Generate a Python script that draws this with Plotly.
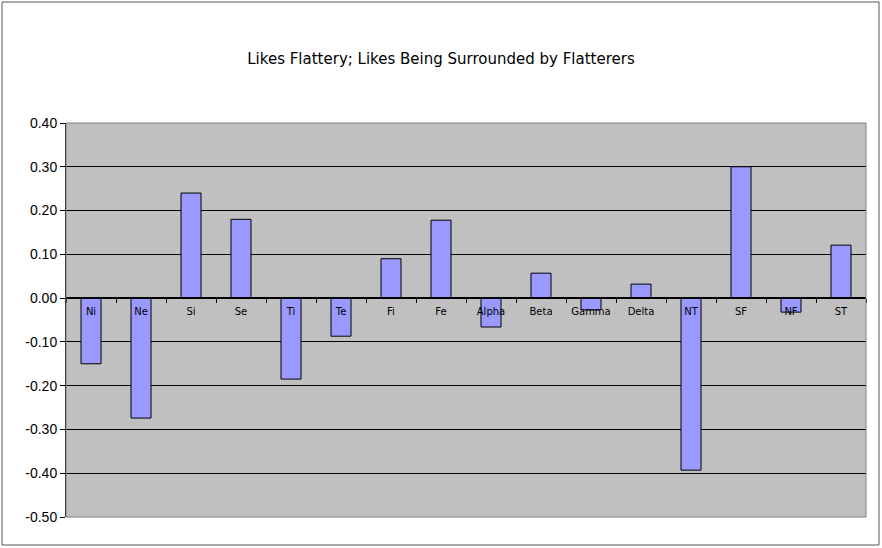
import plotly.graph_objects as go

categories = ["Ni", "Ne", "Si", "Se", "Ti", "Te", "Fi", "Fe", "Alpha", "Beta",
              "Gamma", "Delta", "NT", "SF", "NF", "ST"]
values = [-0.15, -0.274, 0.24, 0.18, -0.185, -0.087, 0.09, 0.178, -0.066, 0.057,
          -0.027, 0.032, -0.393, 0.30, -0.032, 0.121]
y_tickvals = [0.4, 0.3, 0.2, 0.1, 0.0, -0.1, -0.2, -0.3, -0.4, -0.5]
y_ticktext = ["0.40", "0.30", "0.20", "0.10", "0.00", "-0.10", "-0.20", "-0.30", "-0.40", "-0.50"]
title_text = "Likes Flattery; Likes Being Surrounded by Flatterers"

W, H = 882, 548
ml, mr, mt, mb = 66, 16, 123, 31
ymin, ymax = -0.5, 0.4
zero_pos = (0 - ymin) / (ymax - ymin)

fig = go.Figure()
fig.add_trace(go.Bar(
    x=categories, y=values, width=0.4,
    marker=dict(color="#9999FF", line=dict(color="black", width=1)),
))

pw = W - ml - mr
ph = H - mt - mb
fig.update_layout(
    width=W, height=H,
    margin=dict(l=ml, r=mr, t=mt, b=mb),
    paper_bgcolor="white",
    plot_bgcolor="#C0C0C0",
    showlegend=False,
    title=dict(text=title_text, x=0.5, xanchor="center", y=1 - 59 / H, yanchor="middle",
               font=dict(family="DejaVu Sans", size=15, color="black")),
    xaxis=dict(
        anchor="free", position=zero_pos,
        showline=True, linecolor="black", linewidth=2,
        ticks="outside", tickson="boundaries", ticklen=4, tickcolor="black",
        ticklabelstandoff=4,
        tickfont=dict(family="DejaVu Sans", size=10, color="black"),
        showgrid=False, zeroline=False,
    ),
    yaxis=dict(
        range=[ymin, ymax], tickvals=y_tickvals, ticktext=y_ticktext,
        showline=True, linecolor="black", linewidth=1,
        ticks="outside", ticklen=5, tickcolor="black",
        showgrid=True, gridcolor="black", gridwidth=1,
        zeroline=False,
        tickfont=dict(family="Liberation Sans", size=14, color="black"),
    ),
    shapes=[
        dict(type="rect", xref="paper", yref="paper", x0=0, x1=1, y0=0, y1=1,
             line=dict(color="#808080", width=1), layer="above"),
        dict(type="rect", xref="paper", yref="paper",
             x0=(2 - ml) / pw, x1=(879 - ml) / pw,
             y0=-(545 - (H - mb)) / ph, y1=1 + (mt - 2) / ph,
             line=dict(color="#555555", width=1)),
    ],
)

fig.write_html("out.html", config={"displayModeBar": False},
               post_script="document.body.style.margin='0';")
